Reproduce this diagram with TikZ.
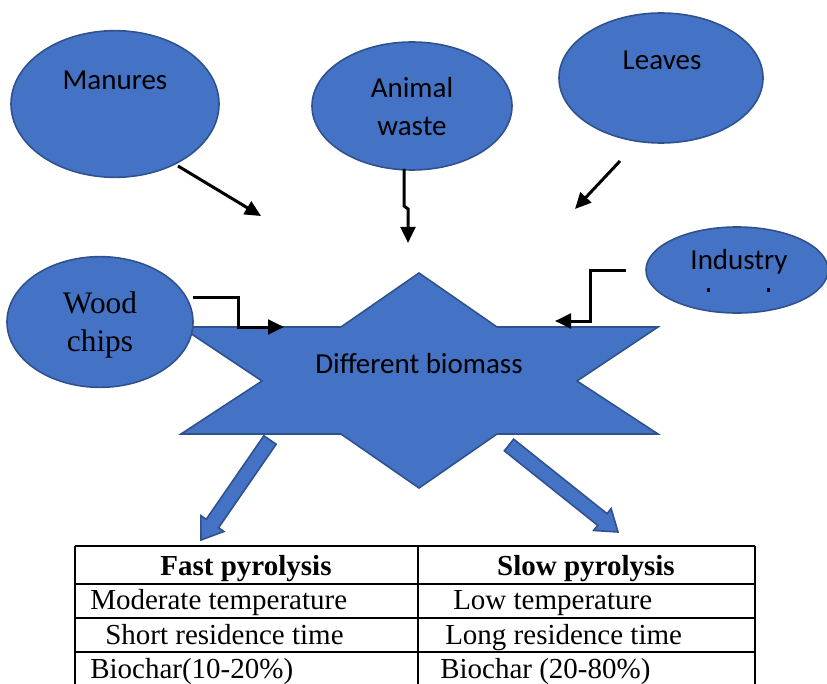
\documentclass[tikz,border=0pt]{standalone}
\usepackage{fontspec}
\setmainfont{Liberation Serif}
\newfontfamily\calfont{Carlito}
\usetikzlibrary{calc,arrows.meta,shapes.geometric}
\definecolor{bfill}{HTML}{4472C4}
\definecolor{bline}{HTML}{2F528F}
\newcommand\bkarrow[2]{%
  \coordinate (#1h) at ($(#2)!15pt!(#1)$);
  \path[barrow] ($(#1)!5.6pt!90:(#2)$) -- ($(#1h)!5.6pt!90:(#2)$) -- ($(#1h)!10.5pt!90:(#2)$)
    -- (#2) -- ($(#1h)!10.5pt!-90:(#2)$) -- ($(#1h)!5.6pt!-90:(#2)$) -- ($(#1)!5.6pt!-90:(#2)$) -- cycle;
}
\begin{document}
\begin{tikzpicture}[x=0.75pt,y=-0.75pt,
  blob/.style={ellipse, draw=bline, fill=bfill, line width=1.2pt, inner sep=0pt},
  ctext/.style={font=\calfont\fontsize{21.75}{26}\selectfont, anchor=base, inner sep=0pt},
  ttext/.style={font=\fontsize{21.75}{26}\selectfont, anchor=base west, inner sep=0pt},
  thead/.style={font=\bfseries\fontsize{21.75}{26}\selectfont, anchor=base, inner sep=0pt},
  wtext/.style={font=\fontsize{23.5}{28}\selectfont, anchor=base, inner sep=0pt},
  flow/.style={line width=2.25pt, -{Triangle[length=12pt,width=11pt]}},
  barrow/.style={draw=bline, fill=bfill, line width=1.2pt, line join=miter},
  grid/.style={line width=1.1pt}
]
\useasboundingbox (0,0) rectangle (827,684);
\clip (0,0) rectangle (827,684);

% central star
\path[barrow] (419,273) -- (497,327) -- (658,327) -- (577,381) -- (658,434) -- (497,434)
  -- (419,488) -- (341,434) -- (181,434) -- (262,381) -- (181,327) -- (341,327) -- cycle;
\node[ctext] (bio) at (419,373) {Different biomass};

% block arrows
\coordinate (fa) at (270,440); \coordinate (fb) at (201,540);
\coordinate (sa) at (509,445); \coordinate (sb) at (618,532);
\bkarrow{fa}{fb}
\bkarrow{sa}{sb}

% source ellipses
\node[blob, minimum width=156pt, minimum height=110pt] (man) at (115,104) {};
\node[blob, minimum width=150pt, minimum height=96pt] (ani) at (412,106) {};
\node[blob, minimum width=153pt, minimum height=97.5pt] (lea) at (661,78) {};
\node[blob, minimum width=136.5pt, minimum height=64.5pt] (ind) at (737,270) {};
\node[blob, minimum width=139.5pt, minimum height=98pt] (woo) at (100,322) {};

\node[ctext] (tman) at (115,90) {Manures};
\node[ctext] (tani1) at (412,98) {Animal};
\node[ctext] (tani2) at (412,136) {waste};
\node[ctext] (tlea) at (662,70) {Leaves};
\node[ctext] (tind) at (739,269) {Industry};
\fill (707,288) rectangle (709.5,292);
\fill (767,288) rectangle (769.5,292);
\node[wtext] (twoo1) at (100,313) {Wood};
\node[wtext] (twoo2) at (100,351) {chips};

% black arrows
\coordinate (m1) at (178,166); \coordinate (m2) at (261,216);
\draw[flow] (m1) -- (m2);
\coordinate (a1) at (404,169); \coordinate (a2) at (408,243);
\draw[flow] (a1) -- (404,206) -- (408,209) -- (a2);
\coordinate (l1) at (620,161); \coordinate (l2) at (575,209);
\draw[flow] (l1) -- (l2);
\coordinate (w1) at (193,297); \coordinate (w2) at (284,327);
\draw[flow] (w1) -- (238,297) -- (238,327) -- (w2);
\coordinate (i1) at (626,270); \coordinate (i2) at (555,321);
\draw[flow] (i1) -- (590,270) -- (590,321) -- (i2);

% table
\draw[grid] (75,546) -- (755,546);
\draw[grid] (75,584) -- (755,584);
\draw[grid] (75,618) -- (755,618);
\draw[grid] (75,652) -- (755,652);
\draw[grid] (75,546) -- (75,690);
\draw[grid] (418,546) -- (418,690);
\draw[grid] (755,546) -- (755,690);
\node[thead] (h1) at (246,575) {Fast pyrolysis};
\node[thead] (h2) at (586,575) {Slow pyrolysis};
\node[ttext] (r1a) at (90,609) {Moderate temperature};
\node[ttext] (r1b) at (453,609) {Low temperature};
\node[ttext] (r2a) at (105,644) {Short residence time};
\node[ttext] (r2b) at (445,644) {Long residence time};
\node[ttext] (r3a) at (90,678) {Biochar(10-20\%)};
\node[ttext] (r3b) at (440,678) {Biochar (20-80\%)};
\end{tikzpicture}
\end{document}
